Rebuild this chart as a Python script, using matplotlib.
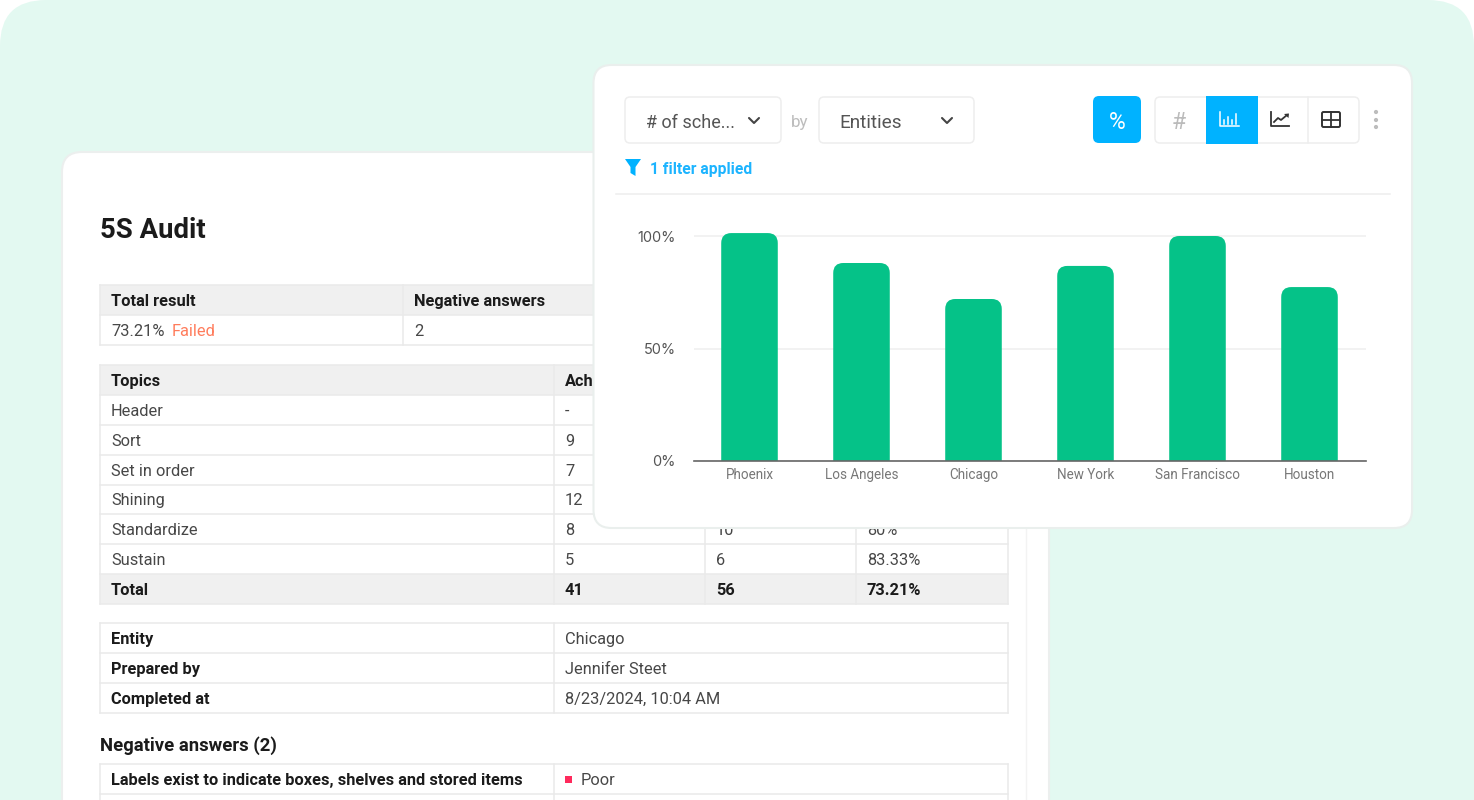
import matplotlib
matplotlib.use("Agg")
import matplotlib.pyplot as plt
from matplotlib.patches import FancyBboxPatch, Rectangle, Polygon

plt.rcParams['font.family'] = ['Roboto', 'DejaVu Sans']

W, H = 1474, 800

# chart values
cities = ['Phoenix', 'Los Angeles', 'Chicago', 'New York', 'San Francisco', 'Houston']
scheduled_pct = [101.3, 88, 72, 86.7, 100, 77.3]
y_ticks = [0, 50, 100]
y_labels = ['0%', '50%', '100%']

# report tables
summary_header = ['Total result', 'Negative answers']
summary_row = ['73.21%', '2']
failed_label = 'Failed'
topic_header = ['Topics', 'Achieved', 'Total', 'Score']
topic_rows = [
    ['Header', '-', '', ''],
    ['Sort', '9', '', ''],
    ['Set in order', '7', '', ''],
    ['Shining', '12', '', ''],
    ['Standardize', '8', '10', '80%'],
    ['Sustain', '5', '6', '83.33%'],
]
topic_total = ['Total', '41', '56', '73.21%']
info_rows = [
    ['Entity', 'Chicago'],
    ['Prepared by', 'Jennifer Steet'],
    ['Completed at', '8/23/2024, 10:04 AM'],
]
negative_question = 'Labels exist to indicate boxes, shelves and stored items'
negative_answer = 'Poor'

MINT = '#E3F9F1'
LINE = '#EAEAEA'
HEAD = '#F0F0F0'
BLUE = '#00B2FF'
GREEN = '#05C288'
BODY = '#474747'
DARK = '#1B1B1B'

fig = plt.figure(figsize=(W / 100, H / 100), dpi=100, facecolor='white')
ui = fig.add_axes([0, 0, 1, 1])
ui.set_xlim(0, W)
ui.set_ylim(H, 0)
ui.axis('off')


def px(size):
    return size * 0.72


def rrect(x0, y0, x1, y1, r, fc='white', ec='none', lw=1, z=1):
    p = FancyBboxPatch((x0 + r, y0 + r), x1 - x0 - 2 * r, y1 - y0 - 2 * r,
                       boxstyle=f'round,pad={r},rounding_size={r}',
                       fc=fc, ec=ec, lw=lw, zorder=z)
    ui.add_patch(p)
    return p


def label(x, y, s, size=16, color=BODY, weight='normal', ha='left', z=3):
    ui.text(x, y, s, fontsize=px(size), color=color, fontweight=weight,
            ha=ha, va='center_baseline', zorder=z)


def table(xs, ys, rows, shaded=(), bold_rows=(), bold_first=False):
    for i, row in enumerate(rows):
        if i in shaded:
            ui.add_patch(Rectangle((xs[0], ys[i]), xs[-1] - xs[0], ys[i + 1] - ys[i],
                                   fc=HEAD, ec='none', zorder=1.5))
        for j, s in enumerate(row):
            bold = i in bold_rows or (bold_first and j == 0)
            label(xs[j] + 11, (ys[i] + ys[i + 1]) / 2, s, size=16.4,
                  color=DARK if bold else BODY,
                  weight='bold' if bold else 'normal')
    for y in ys:
        ui.plot([xs[0], xs[-1]], [y, y], color=LINE, lw=1.1, zorder=2)
    for x in xs:
        ui.plot([x, x], [ys[0], ys[-1]], color=LINE, lw=1.1, zorder=2)


# background panel
rrect(0, 0, W, H + 60, 46, fc=MINT, z=0)

# report sheet
rrect(62, 152, 1049, H + 60, 20, fc='white', ec='#ECEFEE', lw=1.5, z=1)
ui.plot([1026, 1026], [152, H], color='#F3F3F3', lw=1, zorder=1.2)
label(100, 228, '5S Audit', size=27.5, color=DARK, weight='bold')

table([100, 403, 1008], [285, 315, 345],
      [summary_header, summary_row], shaded=(0,), bold_rows=(0,))
label(172, 330, failed_label, size=16.4, color='#FF7C5C')

topic_ys = [365, 395, 425, 454.5, 484.5, 514, 544, 574, 604]
table([100, 554, 705, 856, 1008], topic_ys,
      [topic_header] + topic_rows + [topic_total],
      shaded=(0, 7), bold_rows=(0, 7))

table([100, 554, 1008], [623, 653, 683, 713], info_rows, bold_first=True)

label(100, 744, 'Negative answers (2)', size=18.5, color=DARK, weight='bold')
table([100, 554, 1008], [764, 794, H + 10],
      [[negative_question, ''], ['', '']], bold_first=True)
ui.add_patch(Rectangle((565, 776), 7, 7, fc='#FF2A5C', ec='none', zorder=3))
label(581, 779, negative_answer, size=16.4)
ui.add_patch(Rectangle((0, H), W, 60, fc='white', ec='none', zorder=2.5))

# chart card
rrect(593.5, 65, 1412, 528, 18, fc='white', ec='#EAEFED', lw=1.5, z=4)

# selectors
rrect(625, 97, 781, 143, 5, ec='#EEEEEE', lw=1.1, z=5)
rrect(819, 97, 974, 143, 5, ec='#EEEEEE', lw=1.1, z=5)
label(646, 120.5, '# of sche...', size=18, color='#555555', z=6)
label(791, 120.5, 'by', size=17, color='#BDBDBD', z=6)
label(839, 120.5, 'Entities', size=19, color='#555555', z=6)
for cx in (754, 947):
    ui.plot([cx - 5, cx, cx + 5], [118, 123, 118], color='#444444', lw=1.5,
            solid_capstyle='round', zorder=6)

# filter note
ui.add_patch(Polygon([(625, 159), (641, 159), (635.5, 167), (635.5, 176), (630.5, 173), (630.5, 167)],
                     fc=BLUE, ec='none', zorder=6))
label(650, 168, '1 filter applied', size=15.6, color='#1CB4FF', weight='bold', z=6)
ui.plot([616, 1390], [194, 194], color='#EDEDED', lw=1.1, zorder=5)

# toolbar
rrect(1093, 96, 1141, 143, 6, fc=BLUE, z=5)
label(1117, 120, '%', size=23, color='white', ha='center', z=6)
rrect(1155, 97, 1359, 143, 5, ec='#EEEEEE', lw=1.1, z=5)
ui.add_patch(Rectangle((1206, 96), 52, 47.5, fc=BLUE, ec='none', zorder=5.5))
ui.plot([1308, 1308], [97, 143], color='#EEEEEE', lw=1.1, zorder=6)
label(1179, 120, '#', size=23, color='#BBBBBB', ha='center', z=6)

# bar chart icon
ui.plot([1220, 1220, 1239], [112, 126, 126], color='white', lw=1.1, zorder=6)
for bx, top in zip((1224, 1228, 1232, 1236), (120, 117, 120, 114)):
    ui.plot([bx, bx], [top, 123.5], color='white', lw=1.1, zorder=6)

# line chart icon
ui.plot([1271, 1271, 1289], [112, 126, 126], color='#333333', lw=1.3, zorder=6)
ui.plot([1274, 1278, 1281, 1287], [122, 118, 120, 115], color='#333333', lw=1.3, zorder=6)
ui.add_patch(Polygon([(1284, 114), (1289, 113.5), (1288.5, 118)], fc='#333333', ec='none', zorder=6))

# table icon
rrect(1322, 112, 1340, 127, 1.5, fc='none', ec='#333333', lw=1.4, z=6)
ui.plot([1322, 1340], [119.5, 119.5], color='#333333', lw=1.3, zorder=6)
ui.plot([1331, 1331], [112, 127], color='#333333', lw=1.3, zorder=6)

for dy in (112, 120, 127):
    ui.add_patch(plt.Circle((1376, dy), 2.1, fc='#BDBDBD', ec='none', zorder=6))

# bar chart
ax_left, ax_right, ax_bottom = 694, 1366, 461
unit_x, unit_y = 112, 2.25
y_max = 105
ax = fig.add_axes([ax_left / W, (H - ax_bottom) / H,
                   (ax_right - ax_left) / W, y_max * unit_y / H], zorder=10)
ax.patch.set_alpha(0)
ax.set_xlim((ax_left - 749.5) / unit_x, (ax_right - 749.5) / unit_x)
ax.set_ylim(0, y_max)

bars = ax.bar(range(len(cities)), scheduled_pct, width=0.505, color=GREEN, zorder=2)

# swap each bar for a rounded one of the same size, its lower corners sit below the axis
radius = 10 / unit_x
for b in bars:
    b.set_visible(False)
    ax.add_patch(FancyBboxPatch((b.get_x() + radius, -20), b.get_width() - 2 * radius,
                                b.get_height() + 20 - radius * unit_x / unit_y,
                                boxstyle=f'round,pad={radius},rounding_size={radius}',
                                mutation_aspect=unit_x / unit_y,
                                fc=GREEN, ec='none', zorder=2))

for s in ('top', 'left', 'right'):
    ax.spines[s].set_visible(False)
ax.spines['bottom'].set_color('#666666')
ax.spines['bottom'].set_linewidth(1.2)
ax.spines['bottom'].set_zorder(3)
ax.set_yticks(y_ticks, y_labels, fontsize=px(14.5), color='#555555', family=['Inter', 'DejaVu Sans'])
ax.set_xticks(range(len(cities)), cities, fontsize=px(13.5), color='#777777')
ax.tick_params(axis='both', length=0)
ax.tick_params(axis='y', pad=13)
ax.tick_params(axis='x', pad=5)
ax.yaxis.grid(True, color='#EFEFEF', lw=1.1, zorder=0)
ax.set_axisbelow(True)

fig.savefig('out.png', dpi=100)
